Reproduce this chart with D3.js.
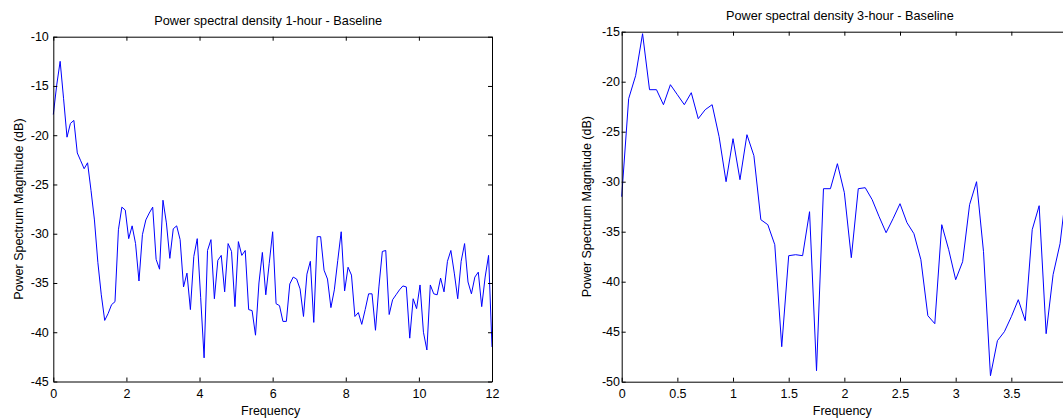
<!DOCTYPE html>
<html>
<head>
<meta charset="utf-8">
<script src="https://cdn.jsdelivr.net/npm/d3@7"></script>
<style>
  body { margin: 0; background: #fff; }
  svg { display: block; font-family: "Liberation Sans", Arial, sans-serif; }
  .axis text { font-size: 12.5px; fill: #000; }
  .axis path, .axis line { stroke: #000; }
</style>
</head>
<body>
<script>
// 1-hour series: 129 bins, 0..12 cycles/day
const df1h = 12 / 128;
const psd1h = [
  -17.9, -14.9, -12.5, -16.3, -20.2, -18.8, -18.5, -21.8, -22.6, -23.4,
  -22.8, -25.6, -28.6, -32.9, -36.2, -38.8, -38.1, -37.2, -36.9, -29.6,
  -27.3, -27.6, -30.5, -29.2, -31.0, -34.8, -30.1, -28.6, -27.9, -27.3,
  -32.6, -33.6, -26.6, -28.9, -32.5, -29.5, -29.2, -30.6, -35.4, -34.0,
  -37.7, -32.3, -30.5, -36.5, -42.6, -31.7, -30.6, -36.6, -32.7, -32.2,
  -35.9, -31.0, -31.8, -37.4, -30.8, -32.2, -31.7, -37.7, -37.8, -40.3,
  -35.0, -31.9, -36.2, -33.0, -29.8, -37.1, -37.3, -38.9, -38.9, -35.1,
  -34.4, -34.6, -35.6, -38.4, -34.1, -32.8, -39.0, -30.3, -30.3, -33.7,
  -34.6, -37.5, -35.7, -32.7, -29.8, -35.8, -33.4, -34.2, -38.4, -38.0,
  -39.2, -37.7, -36.1, -36.1, -39.8, -35.4, -31.8, -31.7, -38.2, -36.7,
  -36.2, -35.7, -35.3, -35.4, -40.6, -36.6, -37.6, -35.2, -40.0, -41.8,
  -35.2, -36.1, -36.2, -34.5, -35.9, -32.8, -31.7, -34.0, -36.6, -32.8,
  -31.0, -34.9, -36.1, -34.4, -33.9, -37.4, -34.4, -32.2, -41.5
];
const xTicks1h = [0, 2, 4, 6, 8, 10, 12];
const yTicks1h = [-45, -40, -35, -30, -25, -20, -15, -10];

// 3-hour series: 65 bins, 0..4 cycles/day (the right edge falls off the picture)
const df3h = 4 / 64;
const psd3h = [
  -31.5, -21.7, -19.4, -15.2, -20.8, -20.8, -22.3, -20.3, -21.3, -22.3,
  -21.1, -23.7, -22.8, -22.3, -25.5, -30.0, -25.7, -29.8, -25.3, -27.4,
  -33.8, -34.3, -36.3, -46.5, -37.4, -37.3, -37.4, -33.0, -48.9, -30.7,
  -30.7, -28.2, -31.1, -37.6, -30.7, -30.6, -31.8, -33.5, -35.1, -33.7,
  -32.2, -34.1, -35.2, -37.8, -43.4, -44.2, -34.3, -36.8, -39.8, -38.0,
  -32.3, -30.0, -37.0, -49.4, -45.9, -45.0, -43.5, -41.8, -43.9, -34.8,
  -32.4, -45.2, -39.3, -36.2, -30.3
];
const xTicks3h = [0, 0.5, 1, 1.5, 2, 2.5, 3, 3.5];
const yTicks3h = [-50, -45, -40, -35, -30, -25, -20, -15];

const svg = d3.select("body").append("svg")
  .attr("width", 1063)
  .attr("height", 418);

function panel(o) {
  const x = d3.scaleLinear().domain(o.xDomain).range([o.left, o.right]);
  const y = d3.scaleLinear().domain(o.yDomain).range([o.bottom, o.top]);
  const g = svg.append("g");

  // the trace
  const line = d3.line()
    .x((d, i) => x(i * o.df))
    .y(d => y(d));
  g.append("path")
    .datum(o.values)
    .attr("fill", "none")
    .attr("stroke", "#0000ff")
    .attr("stroke-width", 1)
    .attr("d", line);

  // box with inward ticks on all four sides
  g.append("g").attr("class", "axis")
    .attr("transform", `translate(0,${o.bottom})`)
    .call(d3.axisBottom(x).tickValues(o.xTicks).tickFormat(d => String(d))
      .tickSizeInner(-4).tickSizeOuter(0).tickPadding(7.5));
  g.append("g").attr("class", "axis")
    .attr("transform", `translate(0,${o.top})`)
    .call(d3.axisTop(x).tickValues(o.xTicks).tickFormat("")
      .tickSizeInner(-4).tickSizeOuter(0));
  g.append("g").attr("class", "axis")
    .attr("transform", `translate(${o.left},0)`)
    .call(d3.axisLeft(y).tickValues(o.yTicks).tickFormat(d => String(d))
      .tickSizeInner(-4).tickSizeOuter(0).tickPadding(o.yPad));
  g.append("g").attr("class", "axis")
    .attr("transform", `translate(${o.right},0)`)
    .call(d3.axisRight(y).tickValues(o.yTicks).tickFormat("")
      .tickSizeInner(-4).tickSizeOuter(0));
  g.selectAll(".axis text").attr("font-family", null).attr("font-size", null);

  // title and axis labels
  const cx = (o.left + o.right) / 2;
  g.append("text")
    .attr("x", cx - 4.5)
    .attr("y", o.top - 12)
    .attr("text-anchor", "middle")
    .style("font-size", "12.7px")
    .text(o.title);
  g.append("text")
    .attr("x", cx - 2)
    .attr("y", 415)
    .attr("text-anchor", "middle")
    .style("font-size", "12.5px")
    .text("Frequency");
  g.append("text")
    .attr("transform", `translate(${o.yLabelX},${(o.top + o.bottom) / 2}) rotate(-90)`)
    .attr("text-anchor", "middle")
    .style("font-size", "12.5px")
    .text("Power Spectrum Magnitude (dB)");
}

panel({
  title: "Power spectral density 1-hour - Baseline",
  values: psd1h, df: df1h,
  xDomain: [0, 12], yDomain: [-45, -10],
  xTicks: xTicks1h, yTicks: yTicks1h,
  left: 53.3, right: 492, top: 36.7, bottom: 381.5,
  yPad: 4.5, yLabelX: 22.5
});

panel({
  title: "Power spectral density 3-hour - Baseline",
  values: psd3h, df: df3h,
  xDomain: [0, 4], yDomain: [-50, -15],
  xTicks: xTicks3h, yTicks: yTicks3h,
  left: 621.7, right: 1067, top: 31.7, bottom: 381.7,
  yPad: 1.7, yLabelX: 591
});
</script>
</body>
</html>
